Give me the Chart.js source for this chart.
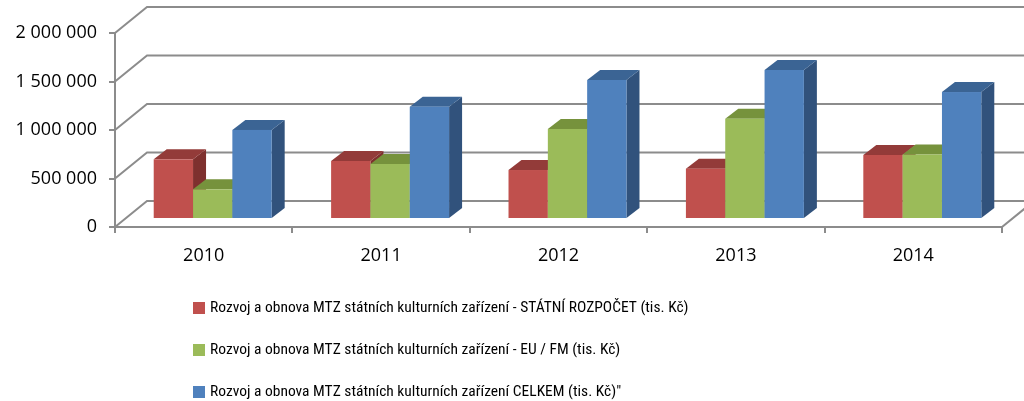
<!DOCTYPE html>
<html>
<head>
<meta charset="utf-8">
<script src="https://cdn.jsdelivr.net/npm/chart.js@4/dist/chart.umd.min.js"></script>
<style>
  html, body { margin: 0; padding: 0; background: #fff; }
  #wrap { width: 1024px; height: 401px; }
</style>
</head>
<body>
<div id="wrap"><canvas id="mtz_chart" width="1024" height="401"></canvas></div>
<script>
// roky a hodnoty (tis. Kč)
var years = ['2010', '2011', '2012', '2013', '2014'];
var statniRozpocet = [615000, 598000, 505000, 519000, 660000];
var euFm = [306000, 567000, 928000, 1034000, 665000];
var celkem = [918000, 1158000, 1433000, 1536000, 1309000];
var seriesNames = [
    'Rozvoj a obnova MTZ státních kulturních zařízení - STÁTNÍ ROZPOČET (tis. Kč)',
    'Rozvoj a obnova MTZ státních kulturních zařízení - EU / FM (tis. Kč)',
    'Rozvoj a obnova MTZ státních kulturních zařízení CELKEM (tis. Kč)"'
];
var yTicks = [0, 500000, 1000000, 1500000, 2000000];

var frontCol = ['#C0504D', '#9BBB59', '#4F81BD'];
var topCol = ['#933B39', '#76923C', '#3B6494'];
var sideCol = ['#7E302E', '#66803A', '#31527C'];
var gridColor = '#8c8c8c';

// posun zadni steny a sloupcu (3D efekt)
var wallX = 32, wallY = 26;
var barX = 9, barY = 8;
var depthX = 13, depthY = 10;

function fmt(v) {
    return String(v).replace(/\B(?=(\d{3})+(?!\d))/g, ' ');
}

var bars3d = {
    id: 'bars3d',
    beforeDatasetsDraw: function(chart) {
        var ctx = chart.ctx;
        var a = chart.chartArea;
        var y = chart.scales.y;
        ctx.save();
        ctx.strokeStyle = gridColor;
        ctx.lineWidth = 2;
        yTicks.forEach(function(v) {
            var py = y.getPixelForValue(v);
            ctx.beginPath();
            ctx.moveTo(a.left, py);
            ctx.lineTo(a.left + wallX, py - wallY);
            ctx.lineTo(a.right + wallX, py - wallY);
            ctx.stroke();
        });
        ctx.beginPath();
        ctx.moveTo(a.right, a.bottom);
        ctx.lineTo(a.right + wallX, a.bottom - wallY);
        ctx.stroke();

        for (var i = 0; i < chart.data.labels.length; i++) {
            for (var d = 0; d < chart.data.datasets.length; d++) {
                var el = chart.getDatasetMeta(d).data[i];
                var l = el.x - el.width / 2 + barX;
                var r = el.x + el.width / 2 + barX;
                var t = el.y - barY;
                var b = el.base - barY;
                // bok
                ctx.fillStyle = sideCol[d];
                ctx.beginPath();
                ctx.moveTo(r, b);
                ctx.lineTo(r + depthX, b - depthY);
                ctx.lineTo(r + depthX, t - depthY);
                ctx.lineTo(r, t);
                ctx.closePath();
                ctx.fill();
                // vrsek
                ctx.fillStyle = topCol[d];
                ctx.beginPath();
                ctx.moveTo(l, t);
                ctx.lineTo(l + depthX, t - depthY);
                ctx.lineTo(r + depthX, t - depthY);
                ctx.lineTo(r, t);
                ctx.closePath();
                ctx.fill();
                // celo
                ctx.fillStyle = frontCol[d];
                ctx.fillRect(l, t, r - l, b - t);
            }
        }
        ctx.restore();
        return false;
    },
    afterDraw: function(chart) {
        var ctx = chart.ctx;
        var rows = [308, 350, 392];
        ctx.save();
        ctx.font = '15.5px "Roboto Condensed", "Liberation Sans", sans-serif';
        ctx.textBaseline = 'middle';
        ctx.fillStyle = '#000';
        chart.data.datasets.forEach(function(ds, k) {
            ctx.fillStyle = frontCol[k];
            ctx.fillRect(193, rows[k] - 6, 12, 12);
            ctx.fillStyle = '#000';
            ctx.fillText(ds.label, 210, rows[k]);
        });
        ctx.restore();
    }
};

var myChart = new Chart('mtz_chart', {
    type: 'bar',
    data: {
        labels: years,
        datasets: [{
                label: seriesNames[0],
                data: statniRozpocet,
                backgroundColor: frontCol[0]
            }, {
                label: seriesNames[1],
                data: euFm,
                backgroundColor: frontCol[1]
            }, {
                label: seriesNames[2],
                data: celkem,
                backgroundColor: frontCol[2]
            }]
    },
    options: {
        responsive: false,
        animation: false,
        layout: { padding: { top: 33, right: 22, left: 0, bottom: 0 } },
        datasets: { bar: { categoryPercentage: 0.665, barPercentage: 1.0 } },
        plugins: {
            legend: { display: false },
            tooltip: { enabled: false }
        },
        scales: {
            x: {
                offset: true,
                afterFit: function(s) { s.height = 174; },
                grid: { offset: true, drawOnChartArea: false, color: gridColor, lineWidth: 2, tickLength: 6 },
                border: { color: gridColor, width: 2 },
                ticks: { color: '#000', padding: 12, font: { family: '"Open Sans"', size: 18 }, maxRotation: 0 }
            },
            y: {
                min: 0,
                max: 2000000,
                afterFit: function(s) { s.width = 115; },
                afterBuildTicks: function(s) { s.ticks = yTicks.map(function(v) { return { value: v }; }); },
                grid: { drawOnChartArea: false, color: gridColor, lineWidth: 2, tickLength: 6 },
                border: { color: gridColor, width: 2 },
                ticks: {
                    color: '#000',
                    padding: 12,
                    font: { family: '"Open Sans"', size: 18 },
                    callback: function(v) { return fmt(v); }
                }
            }
        }
    },
    plugins: [bars3d]
});
</script>
</body>
</html>
